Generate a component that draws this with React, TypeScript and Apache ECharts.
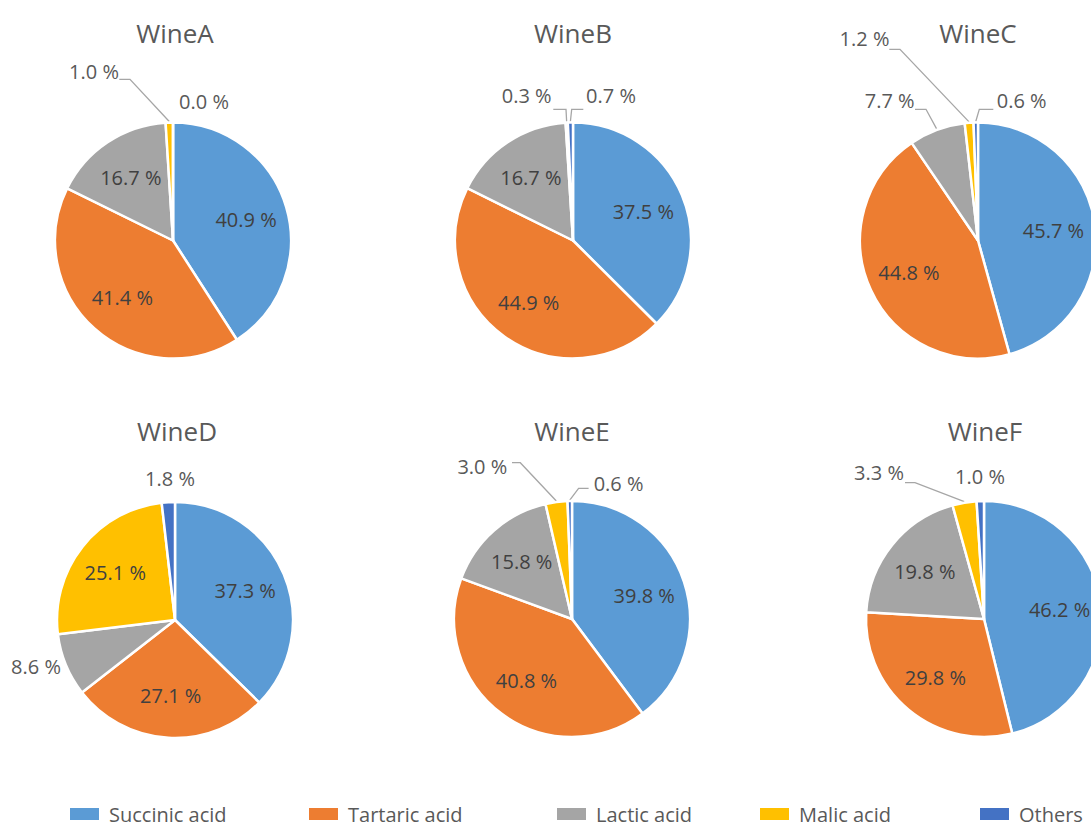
import React, { useEffect, useRef } from 'react';
import * as echarts from 'echarts';

// ---------- data ----------
const categories = ['Succinic acid', 'Tartaric acid', 'Lactic acid', 'Malic acid', 'Others'];
const wineNames = ['WineA', 'WineB', 'WineC', 'WineD', 'WineE', 'WineF'];
const wineA = [40.9, 41.4, 16.7, 1.0, 0.0];
const wineB = [37.5, 44.9, 16.7, 0.3, 0.7];
const wineC = [45.7, 44.8, 7.7, 1.2, 0.6];
const wineD = [37.3, 27.1, 8.6, 25.1, 1.8];
const wineE = [39.8, 40.8, 15.8, 3.0, 0.6];
const wineF = [46.2, 29.8, 19.8, 3.3, 1.0];
const wineValues = [wineA, wineB, wineC, wineD, wineE, wineF];

// ---------- style / layout ----------
const colors = ['#5B9BD5', '#ED7D31', '#A5A5A5', '#FFC000', '#4472C4'];
const FONT = '"Open Sans", "Noto Sans", sans-serif';
const pieCenters = [
  [173, 240.5], [573, 240.5], [978, 240.5],
  [175, 620], [572, 619], [984, 619],
];
const titlePos = [[175, 33], [573, 33], [978, 33], [177, 431], [572, 431], [985, 431]];
const R = 118;
const INSIDE_K = 0.645;
const legendLefts = [68, 307, 555, 758, 978];

type OutSpec = { lx: number; ly: number; line?: number[][] };
// label offsets relative to pie center for labels placed outside slices
const outsideLabels: Record<number, OutSpec>[] = [
  { 3: { lx: -79, ly: -169.5, line: [[-43, -161.2], [-53.7, -161.2]] }, 4: { lx: 31, ly: -139.5 } },
  {
    3: { lx: -46.3, ly: -144.7, line: [[-7, -131.2], [-19.7, -131.2]] },
    4: { lx: 38, ly: -144.7, line: [[-1.3, -131.2], [10.3, -131.2]] },
  },
  {
    2: { lx: -88.3, ly: -140.2, line: [[-52, -131.2], [-63, -131.2]] },
    3: { lx: -113.5, ly: -201.7, line: [[-78, -191.2], [-88.7, -191.2]] },
    4: { lx: 43.7, ly: -140.2, line: [[1.3, -131.2], [15.3, -131.2]] },
  },
  { 2: { lx: -139, ly: 46.7 }, 4: { lx: -5, ly: -142 } },
  {
    3: { lx: -89.7, ly: -153, line: [[-51.7, -156.3], [-60, -156.3]] },
    4: { lx: 46.6, ly: -135.5, line: [[6.6, -130.7], [16.6, -130.7]] },
  },
  { 3: { lx: -105, ly: -146.5, line: [[-69, -136.3], [-79, -136.3]] }, 4: { lx: -4, ly: -142.3 } },
];

function midAngle(vals: number[], i: number) {
  const sum = vals.reduce((a, b) => a + b, 0);
  let acc = 0;
  for (let j = 0; j < i; j++) acc += vals[j];
  return ((acc + vals[i] / 2) / sum) * Math.PI * 2;
}

export default function App() {
  const ref = useRef<HTMLDivElement>(null);
  useEffect(() => {
    if (!ref.current) return;
    const chart = echarts.init(ref.current, undefined, { renderer: 'svg' });

    const series = wineValues.map((vals, s) => {
      const [cx, cy] = pieCenters[s];
      const outs = outsideLabels[s];
      return {
        type: 'pie',
        name: wineNames[s],
        center: [cx, cy],
        radius: [0, R],
        startAngle: 90,
        clockwise: true,
        avoidLabelOverlap: false,
        silent: true,
        itemStyle: { borderColor: '#ffffff', borderWidth: 2.5 },
        label: {
          show: true,
          position: 'outside',
          fontFamily: FONT,
          fontSize: 20,
          color: '#404040',
          formatter: (p: any) => `${Number(p.value).toFixed(1)} %`,
        },
        labelLine: { show: true, length: 5, length2: 5, lineStyle: { color: '#A6A6A6', width: 1.3 } },
        data: vals.map((v, i) => ({
          name: categories[i],
          value: v,
          itemStyle: { color: colors[i] },
          label: { color: outs[i] ? '#595959' : '#404040' },
          labelLine: { show: !!(outs[i] && outs[i].line) },
        })),
        labelLayout: (p: any) => {
          const i = p.dataIndex;
          const spec = outs[i];
          const a = midAngle(vals, i);
          if (spec) {
            const res: any = { x: cx + spec.lx, y: cy + spec.ly, align: 'center', verticalAlign: 'middle' };
            if (spec.line) {
              const ex = cx + (R + 1) * Math.sin(a);
              const ey = cy - (R + 1) * Math.cos(a);
              res.labelLinePoints = [
                [ex, ey],
                [cx + spec.line[0][0], cy + spec.line[0][1]],
                [cx + spec.line[1][0], cy + spec.line[1][1]],
              ];
            }
            return res;
          }
          return {
            x: cx + INSIDE_K * R * Math.sin(a),
            y: cy - INSIDE_K * R * Math.cos(a),
            align: 'center',
            verticalAlign: 'middle',
          };
        },
      };
    });

    const legends = categories.map((c, i) => ({
      data: [c],
      left: legendLefts[i],
      top: 804,
      padding: 0,
      icon: 'rect',
      itemWidth: 31,
      itemHeight: 14,
      selectedMode: false,
      textStyle: { fontFamily: FONT, fontSize: 20, color: '#595959', padding: [0, 0, 0, 4] },
    }));

    const option: any = {
      animation: false,
      backgroundColor: '#ffffff',
      color: colors,
      legend: legends,
      graphic: wineNames.map((w, s) => ({
        type: 'text',
        x: titlePos[s][0],
        y: titlePos[s][1],
        style: {
          text: w,
          fontFamily: FONT,
          fontSize: 26,
          fill: '#595959',
          align: 'center',
          verticalAlign: 'middle',
        },
      })),
      series,
    };
    chart.setOption(option);
    return () => chart.dispose();
  }, []);
  return (
    <div
      ref={ref}
      style={{ position: 'fixed', left: 0, top: 0, width: 1091, height: 826, background: '#fff' }}
    />
  );
}
